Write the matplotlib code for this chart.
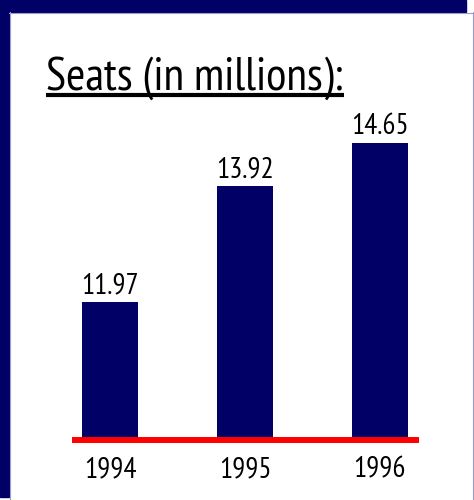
import matplotlib
matplotlib.use("Agg")
import matplotlib.pyplot as plt
from matplotlib.patches import Rectangle
from matplotlib.lines import Line2D

# Seat capacity per year, in millions
years = ["1994", "1995", "1996"]
seats = [11.97, 13.92, 14.65]

NAVY = "#000066"
EDGE = "#9c9ccc"
FONT = ["PT Sans Narrow", "Archivo Narrow", "Roboto Condensed", "DejaVu Sans"]

W, H = 474, 500
fig = plt.figure(figsize=(W / 100, H / 100), dpi=100)
fig.patch.set_facecolor("white")


def px_box(x0, y0, x1, y1):
    """Convert a pixel box (top-left origin) to figure fractions."""
    return [x0 / W, 1 - y1 / H, (x1 - x0) / W, (y1 - y0) / H]


# Slide frame: navy bands on top and left, thin light rules inside them
fig.patches.append(Rectangle((0, 1 - 12 / H), 466 / W, 12 / H,
                             transform=fig.transFigure, color=NAVY, zorder=0))
fig.patches.append(Rectangle((0, 1 - 497 / H), 9 / W, 497 / H,
                             transform=fig.transFigure, color=NAVY, zorder=0))
fig.lines.append(Line2D([9 / W, 1], [1 - 12.5 / H, 1 - 12.5 / H],
                        transform=fig.transFigure, color=EDGE, lw=0.8))
fig.lines.append(Line2D([9.5 / W, 9.5 / W], [0, 1 - 12 / H],
                        transform=fig.transFigure, color=EDGE, lw=0.8))
fig.lines.append(Line2D([472.5 / W, 472.5 / W], [0, 1 - 12 / H],
                        transform=fig.transFigure, color=EDGE, lw=0.8))

# Underlined heading, sized so that it spans the underline
TITLE_X0, TITLE_X1 = 46, 344
title = fig.text(TITLE_X0 / W, 1 - 90 / H, "Seats (in millions):", family=FONT,
                 fontsize=34, color="black", ha="left", va="baseline")
fig.canvas.draw()
tw = title.get_window_extent().width
if tw > 0:
    title.set_fontsize(34 * (TITLE_X1 - TITLE_X0) / tw)
fig.lines.append(Line2D([TITLE_X0 / W, TITLE_X1 / W], [1 - 95 / H, 1 - 95 / H],
                        transform=fig.transFigure, color="black", lw=3.0,
                        solid_capstyle="butt"))

# Bar chart area
ax = fig.add_axes(px_box(75, 120, 416, 440))
x = list(range(len(years)))
ax.bar(x, seats, width=0.416, color=NAVY, bottom=0, zorder=2)
ax.set_xlim(-0.2634, 2.269)
ax.set_ylim(9.65, 15.04)

for xi, v in zip(x, seats):
    ax.annotate(f"{v:.2f}", (xi, v), xytext=(0, 6.5), textcoords="offset points",
                ha="center", va="baseline", family=FONT, fontsize=21,
                color="black")

ax.set_xticks(x)
ax.set_xticklabels(years, family=FONT, fontsize=21)
ax.tick_params(axis="x", length=0, pad=11.5)
ax.set_yticks([])
for side in ("top", "left", "right"):
    ax.spines[side].set_visible(False)
ax.spines["bottom"].set_color("#ff0000")
ax.spines["bottom"].set_linewidth(4.3)
ax.spines["bottom"].set_zorder(3)
ax.set_facecolor("none")

fig.savefig("out.png", dpi=100)
